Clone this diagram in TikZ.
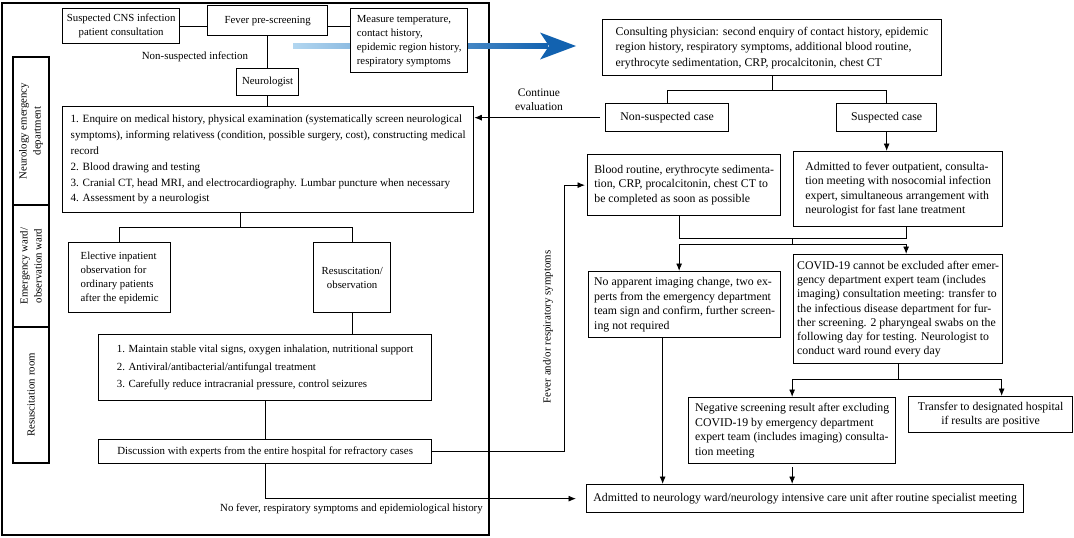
\documentclass[tikz,border=0pt]{standalone}
\usepackage{fontspec}
\setmainfont{Liberation Serif}
\usetikzlibrary{arrows.meta,calc}
\definecolor{blueL}{RGB}{178,214,240}
\definecolor{blueD}{RGB}{18,98,176}
\begin{document}
\begin{tikzpicture}[x=1pt,y=-1pt,
  box/.style={draw, line width=1.3pt, fill=white, inner sep=0pt, anchor=north west, font=\fontsize{10.8}{14}\selectfont},
  rfont/.style={font=\fontsize{11.8}{14.5}\selectfont},
  lbox/.style={box, align=left},
  cbox/.style={box, align=center},
  rlbox/.style={lbox, rfont},
  rcbox/.style={cbox, rfont},
  band/.style={draw, line width=1.3pt, fill=white, inner sep=0pt, rotate=90, align=center, minimum height=36pt, font=\fontsize{10.8}{14}\selectfont},
  conn/.style={line width=0.9pt},
  arr/.style={conn, -{Latex[length=7.5pt,width=6pt]}},
  lab/.style={font=\fontsize{10.9}{14}\selectfont, inner sep=0pt}
]
\useasboundingbox (0,0) rectangle (1074,538);
% outer frame
\draw[line width=1.3pt] (2,3) rectangle (489,535);
% bands
\node[band, minimum width=148pt] (band1) at (31,131) {Neurology emergency\\department};
\node[band, minimum width=122pt] (band2) at (31,266) {Emergency ward/\\observation ward};
\node[band, minimum width=136pt] (band3) at (31,395) {Resuscitation room};
% blue arrow
\shade[left color=blueL, right color=blueD] (293,43.8) rectangle (548,48.2);
\fill[blueD] (576,46) -- (540,32.5) -- (549,46) -- (540,59.5) -- cycle;
% left boxes
\node[cbox, minimum width=117pt, minimum height=35pt] (susp) at (62,8) {Suspected CNS infection\\patient consultation};
\node[cbox, minimum width=120pt, minimum height=30pt] (fever) at (207,5) {Fever pre-screening};
\node[lbox, minimum width=117pt, minimum height=64pt] (measure) at (350,8) {Measure temperature,\\contact history,\\epidemic region history,\\respiratory symptoms};
\node[cbox, minimum width=62pt, minimum height=27pt] (neuro) at (236,68) {Neurologist};
\node[lbox, minimum width=411pt, minimum height=106pt, font=\fontsize{11.1}{15.8}\selectfont] (box1) at (62,106) {1. Enquire on medical history, physical examination (systematically screen neurological\\symptoms), informing relativess (condition, possible surgery, cost), constructing medical\\record\\2. Blood drawing and testing\\3. Cranial CT, head MRI, and electrocardiography. Lumbar puncture when necessary\\4. Assessment by a neurologist};
\node[lbox, minimum width=102pt, minimum height=70pt] (elective) at (68,242) {Elective inpatient\\observation for\\ordinary patients\\after the epidemic};
\node[cbox, minimum width=77pt, minimum height=70pt] (resus) at (313,242) {Resuscitation/\\observation};
\node[lbox, minimum width=333pt, minimum height=66pt, font=\fontsize{10.9}{17.5}\selectfont] (treat) at (98,334) {1. Maintain stable vital signs, oxygen inhalation, nutritional support\\2. Antiviral/antibacterial/antifungal treatment\\3. Carefully reduce intracranial pressure, control seizures};
\node[cbox, minimum width=333pt, minimum height=24pt, font=\fontsize{10.9}{14}\selectfont] (disc) at (98,439) {Discussion with experts from the entire hospital for refractory cases};
% right boxes
\node[rlbox, minimum width=339pt, minimum height=56pt, font=\fontsize{11.8}{15.5}\selectfont] (consult) at (602,19) {Consulting physician: second enquiry of contact history, epidemic\\region history, respiratory symptoms, additional blood routine,\\erythrocyte sedimentation, CRP, procalcitonin, chest CT};
\node[rcbox, minimum width=123pt, minimum height=28pt] (nonsusp) at (605,103) {Non-suspected case};
\node[rcbox, minimum width=100pt, minimum height=28pt] (susp2) at (836,103) {Suspected case};
\node[rlbox, minimum width=193pt, minimum height=61pt] (blood) at (587,154) {Blood routine, erythrocyte sedimenta-\\tion, CRP, procalcitonin, chest CT to\\be completed as soon as possible};
\node[rlbox, minimum width=209pt, minimum height=75pt] (adm1) at (793,151) {Admitted to fever outpatient, consulta-\\tion meeting with nosocomial infection\\expert, simultaneous arrangement with\\neurologist for fast lane treatment};
\node[rlbox, minimum width=192pt, minimum height=66pt] (noapp) at (588,271) {No apparent imaging change, two ex-\\perts from the emergency department\\team sign and confirm, further screen-\\ing not required};
\node[rlbox, minimum width=209pt, minimum height=109pt, font=\fontsize{11.8}{14.2}\selectfont] (covid) at (793,254) {COVID-19 cannot be excluded after emer-\\gency department expert team (includes\\imaging) consultation meeting: transfer to\\the infectious disease department for fur-\\ther screening. 2 pharyngeal swabs on the\\following day for testing. Neurologist to\\conduct ward round every day};
\node[rlbox, minimum width=207pt, minimum height=66pt] (neg) at (688,397) {Negative screening result after excluding\\COVID-19 by emergency department\\expert team (includes imaging) consulta-\\tion meeting};
\node[rcbox, minimum width=164pt, minimum height=36pt] (transfer) at (908,396) {Transfer to designated hospital\\if results are positive};
\node[rcbox, minimum width=437pt, minimum height=28pt] (adm2) at (586,484) {Admitted to neurology ward/neurology intensive care unit after routine specialist meeting};
% labels
\node[lab] (nsi) at (195,57) {Non-suspected infection};
\node[lab, align=center, font=\fontsize{11.5}{14}\selectfont] (conteval) at (539,100) {Continue\\evaluation};
\node[lab, rotate=90] (fevlab) at (548,327) {Fever and/or respiratory symptoms};
\node[lab, anchor=east] (nofev) at (483,509) {No fever, respiratory symptoms and epidemiological history};
% connectors left
\draw[conn] (susp.east) -- (susp.east -| fever.west);
\draw[conn] (fever.east |- susp.east) -- (measure.west |- susp.east);
\draw[conn] (fever.south) -- (neuro.north);
\draw[conn] (neuro.south) -- (box1.north -| neuro.south);
\coordinate (b0) at ($(box1.south)+(-28,0)$);
\draw[conn] (b0) -- ++(0,14) coordinate (br1);
\draw[conn] (elective.north) |- (br1) -| (resus.north);
\draw[conn] (resus.south) -- (resus.south |- treat.north);
\draw[conn] (treat.south) -- (disc.north);
\draw[arr, shorten >=2pt] (disc.east) -- ++(132,0) |- (blood.west);
\draw[arr, shorten >=10pt] (disc.south) |- (adm2.west);
% connectors right
\draw[conn] (consult.south) -- ++(0,14) coordinate (br2);
\draw[conn] (nonsusp.north) |- (br2) -| (susp2.north);
\draw[arr, shorten <=5pt] (nonsusp.west) -- (nonsusp.west -| box1.east);
\draw[arr] (susp2.south) -- (susp2.south |- adm1.north);
\coordinate (m0) at ($(blood.south)+(-5,0)$);
\coordinate (m1) at ($(m0)+(0,22)$);
\coordinate (m2) at ($(adm1.south)+(8,0)$);
\draw[conn] (m0) -- (m1) -- (m1 -| m2) -- (m2);
\coordinate (m3) at ($(m1)!0.5!(m1 -| m2)$);
\draw[conn] (m3) -- ++(0,6) coordinate (m4);
\draw[conn] (m4 -| m1) -- (m4 -| m2);
\draw[arr] (m4 -| m1) -- (m1 |- noapp.north);
\draw[arr] (m4 -| m2) -- (m2 |- covid.north);
\draw[conn] (covid.south) -- ++(0,15) coordinate (s1);
\coordinate (t1) at ($(transfer.north)+(11,0)$);
\draw[arr] (s1 -| neg.north) -- (neg.north);
\draw[arr] (s1 -| t1) -- (t1);
\draw[conn] (s1 -| neg.north) -- (s1 -| t1);
\draw[arr, shorten <=3pt] (neg.south) -- (neg.south |- adm2.north);
\coordinate (na) at ($(noapp.south)+(-22,0)$);
\draw[arr] (na) -- (na |- adm2.north);
\end{tikzpicture}
\end{document}
